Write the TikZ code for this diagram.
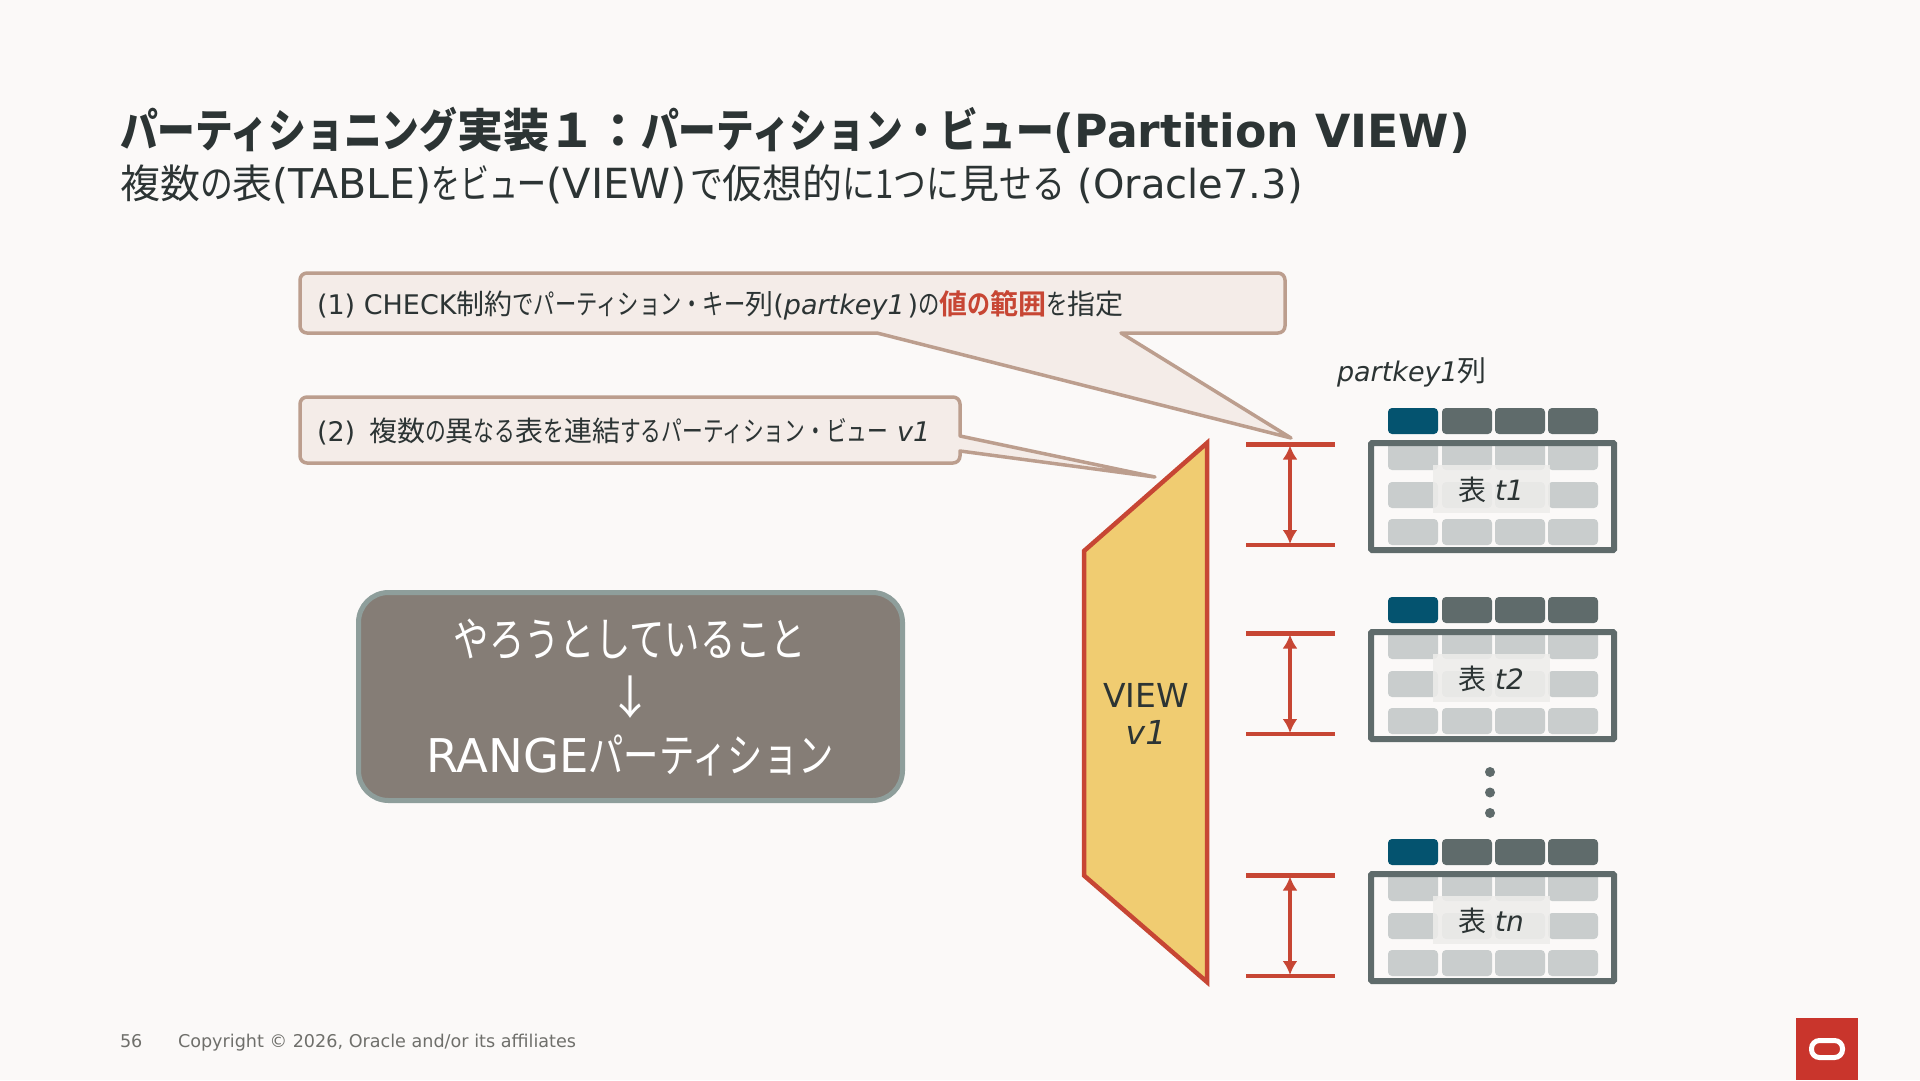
\documentclass[tikz,border=0pt]{standalone}
\usepackage{fontspec}
\setmainfont{DejaVu Sans}
\newfontfamily\jpn{Noto Sans CJK JP}
\newfontfamily\jpnb{Noto Sans CJK JP Bold}
\newfontfamily\knm[FakeStretch=0.76]{Noto Sans CJK JP}
\newfontfamily\kna[FakeStretch=0.74]{Noto Sans CJK JP}
\newfontfamily\knh[FakeStretch=0.82]{Noto Sans CJK JP}
\newfontfamily\knt[FakeStretch=0.72]{Noto Sans CJK JP}
\newfontfamily\knb[FakeStretch=0.82]{Noto Sans CJK JP Bold}
\newcommand{\jp}[1]{{\jpn #1}}
\newcommand{\jb}[1]{{\jpnb #1}}
\newcommand{\km}[1]{{\knm #1}}
\newcommand{\ka}[1]{{\kna #1}}
\newcommand{\kh}[1]{{\knh #1}}
\newcommand{\kt}[1]{{\knt #1}}
\newcommand{\kb}[1]{{\knb #1}}
\newcommand{\fsz}[1]{\fontsize{#1}{#1}\selectfont}
\definecolor{bgc}{HTML}{FBF9F8}
\definecolor{ink}{HTML}{2C3434}
\definecolor{ored}{HTML}{C74634}
\definecolor{logored}{HTML}{C9352C}
\definecolor{calfill}{HTML}{F4ECE8}
\definecolor{caledge}{HTML}{BC9E8E}
\definecolor{yel}{HTML}{F0CC71}
\definecolor{teal}{HTML}{04536F}
\definecolor{slategr}{HTML}{5F6B6B}
\definecolor{lightgr}{HTML}{C9CDCD}
\definecolor{boxfill}{HTML}{857D76}
\definecolor{boxedge}{HTML}{8E9E9B}
\definecolor{foot}{HTML}{6F6F6B}
\definecolor{veil}{HTML}{EEEDEB}
\usetikzlibrary{arrows.meta}
\tikzset{
  txt/.style={inner sep=0pt,outer sep=0pt,text=ink,anchor=base west},
  callout/.style={draw=caledge,fill=calfill,line width=3.5pt,line join=round},
  tick/.style={draw=ored,line width=4.5pt},
  span/.style={draw=ored,line width=4.5pt,{Latex[length=14pt,width=15pt]}-{Latex[length=14pt,width=15pt]},shorten <=1pt,shorten >=1pt},
  cell/.style={rounded corners=4pt,draw=none},
}
\begin{document}
\begin{tikzpicture}[x=1pt,y=-1pt]
\path[fill=bgc] (0,0) rectangle (1920,1080);
\useasboundingbox (0,0) rectangle (1920,1080);
% title
\node[txt] (title) at (120,147) {\fsz{46}\bfseries\kb{パーティショニング}\jb{実装１：}\kb{パーティション・ビュー}\fsz{45.7}(Partition VIEW)};
\node[txt] (subtitle) at (120,198) {\fsz{40}\jp{複数}\kh{の}\jp{表}\fsz{41}(TABLE)\fsz{40}\kt{をビュー}\fsz{41.5}(VIEW)\hspace{3pt}\fsz{40}\kh{で}\jp{仮想的}\kh{に1つに}\jp{見}\kh{せる} (Oracle7.3)};
% callouts
\path[callout] (877,333) -- (1291,438) -- (1121,333) [rounded corners=7pt] -- (1285,333) -- (1285,273) -- (300,273) -- (300,333) [sharp corners] -- cycle;
\node[txt] (c1) at (317,314) {\fsz{27}(1) CHECK\fsz{28}\jp{制約}\km{でパーティション・キー}\jp{列}\fsz{27}(\textit{partkey1}\hspace{3pt})\fsz{28}\km{の}\textcolor{ored}{\jb{値}\kb{の}\jb{範囲}}\km{を}\jp{指定}};
\path[callout] (960,451) -- (1155,477) -- (960,436) [rounded corners=7pt] -- (960,397) -- (300,397) -- (300,463) -- (960,463) [sharp corners] -- cycle;
\node[txt] (c2) at (317,441) {\fsz{27}(2)\hspace{14pt}\fsz{28}\jp{複数}\ka{の}\jp{異}\ka{なる}\jp{表}\ka{を}\jp{連結}\ka{するパーティション・ビュー} \fsz{27}\textit{v1}};
% view
\path[draw=ored,fill=yel,line width=4.5pt,line join=miter] (1207,443) -- (1207,982) -- (1084,875.5) -- (1084,551) -- cycle;
\node[txt,anchor=center,align=center] (view) at (1146,714) {\fsz{33}VIEW\\[12pt]\fsz{33}\textit{v1}};
% box
\node[draw=boxedge,fill=boxfill,line width=5pt,rounded corners=30pt,minimum width=544pt,minimum height=208pt,outer sep=0pt] (main) at (630.5,696.5) {};
\node[inner sep=0pt,text=white] (m1) at (630,639) {\fsz{46.5}\km{やろうとしていること}};
\node[inner sep=0pt,text=white] (m2) at (630,697) {\fsz{46}\jp{↓}};
\node[inner sep=0pt,text=white] (m3) at (630,755) {\fsz{46.5}RANGE\km{パーティション}};
% column label
\node[txt] (colname) at (1337,381) {\fsz{27}\textit{partkey1}\fsz{29}\jp{列}};
% tables
\foreach \nm/\dy/\lab in {a/0/t1,b/189/t2,c/431/tn}{
  \begin{scope}[yshift=-\dy pt]
    \coordinate (top\nm) at (1290,444.5);
    \coordinate (bot\nm) at (1290,545);
    \draw[tick] (1246,444.5) -- (1335,444.5);
    \draw[tick] (1246,545) -- (1335,545);
    \draw[span] (top\nm) -- (bot\nm);
    \fill[teal,cell] (1388,408) rectangle (1438,434);
    \foreach \xa in {1442,1495,1548}{\fill[slategr,cell] (\xa,408) rectangle (\xa+50,434);}
    \foreach \ya/\yb in {440/470,482/508,519/545}{
      \foreach \xa in {1388,1442,1495,1548}{\fill[lightgr,cell] (\xa,\ya) rectangle (\xa+50,\yb);}
    }
    \draw[slategr,line width=6pt,rounded corners=1pt] (1371,443) rectangle (1614,550);
    \fill[veil,opacity=0.85] (1433,465) rectangle (1550,513);
    \node[inner sep=0pt,text=ink] (lab\nm) at (1491,490) {\fsz{28}\jp{表} \textit{\lab}};
  \end{scope}
}
\fill[slategr] (1490,772) circle (5pt) (1490,792.5) circle (5pt) (1490,813) circle (5pt);
% footer
\node[txt,text=foot] (pg) at (120,1047) {\fsz{17.6}56};
\node[txt,text=foot] (copy) at (178,1047) {\fsz{17.6}Copyright © 2026, Oracle and/or its affiliates};
% logo
\fill[logored] (1796,1018) rectangle (1858,1080);
\draw[white,line width=5pt,rounded corners=8pt] (1811.5,1040.5) rectangle (1842.5,1057.5);
\end{tikzpicture}
\end{document}
